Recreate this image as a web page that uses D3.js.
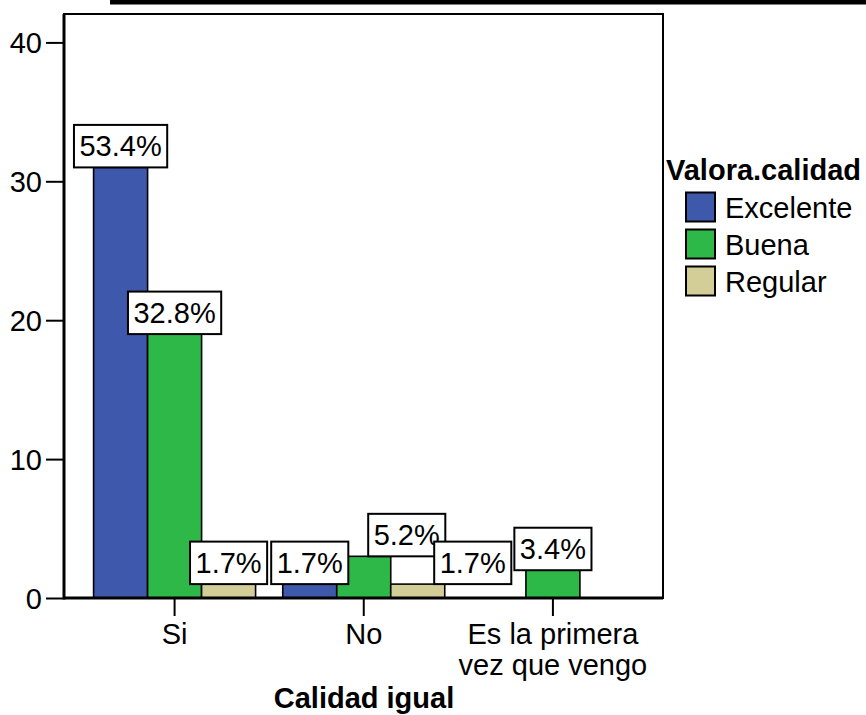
<!DOCTYPE html>
<html><head><meta charset="utf-8">
<script src="https://cdn.jsdelivr.net/npm/d3@7"></script>
<style>body{margin:0;background:#fff}svg{display:block}text{font-family:Arial,"Liberation Sans",Helvetica,sans-serif}</style>
</head><body>
<svg id="c" width="866" height="715"></svg>
<script>
const categories = ["Si", "No", "Es la primera\nvez que vengo"];
const series = ["Excelente", "Buena", "Regular"];
const excelente = [31, 1, 0];
const buena = [19, 3, 2];
const regular = [1, 1, 0];
const total = 58;
const yTicks = [0, 10, 20, 30, 40];
const colors = ["#3E58AC", "#2EB848", "#D3CE97"];
const legendTitle = "Valora.calidad";
const xTitle = "Calidad igual";

const values = [excelente, buena, regular];
const svg = d3.select("#c");
const W = 866;
const FS = 29;
const plot = {left: 64, right: 663, top: 14, bottom: 598};

const y = d3.scaleLinear().domain([0, 40]).range([598, 42.4]);
const x0 = d3.scaleBand().domain(categories).range([80, 647.5]);
const groupW = 162;
const x1 = d3.scaleBand().domain(series).range([0, groupW]);
const color = d3.scaleOrdinal().domain(series).range(colors);

// title underline (title itself lies above the visible area)
svg.append("rect").attr("x", 110).attr("y", 0).attr("width", W - 110).attr("height", 4.5).attr("fill", "#000");

// frame
svg.append("rect").attr("x", plot.left).attr("y", plot.top)
  .attr("width", plot.right - plot.left).attr("height", plot.bottom - plot.top)
  .attr("fill", "none").attr("stroke", "#000").attr("stroke-width", 2);

// bars
const data = [];
categories.forEach((c, ci) => series.forEach((s, si) => {
  const v = values[si][ci];
  if (v > 0) data.push({c, s, v});
}));

const gBars = svg.append("g");
gBars.selectAll("rect").data(data).join("rect")
  .attr("x", d => x0(d.c) + (x0.bandwidth() - groupW) / 2 + x1(d.s))
  .attr("y", d => y(d.v))
  .attr("width", x1.bandwidth())
  .attr("height", d => y(0) - y(d.v))
  .attr("fill", d => color(d.s))
  .attr("stroke", "#000").attr("stroke-width", 1.6);

// axes
const yAxis = svg.append("g").attr("transform", `translate(${plot.left},0)`)
  .call(d3.axisLeft(y).tickValues(yTicks).tickSize(18).tickPadding(4).tickFormat(d3.format("d")));
yAxis.select(".domain").remove();
yAxis.selectAll("line").attr("stroke", "#000").attr("stroke-width", 2);
yAxis.selectAll("text").attr("font-size", FS).attr("fill", "#000").attr("dy", "0.36em");
svg.append("line").attr("x1", plot.left).attr("x2", plot.left).attr("y1", plot.top).attr("y2", plot.bottom + 1.5)
  .attr("stroke", "#000").attr("stroke-width", 3);

const xAxis = svg.append("g").attr("transform", `translate(0,${plot.bottom})`)
  .call(d3.axisBottom(x0).tickSize(18).tickFormat(""));
xAxis.select(".domain").remove();
xAxis.selectAll("line").attr("stroke", "#000").attr("stroke-width", 2);
svg.append("line").attr("x1", plot.left).attr("x2", plot.right).attr("y1", plot.bottom).attr("y2", plot.bottom)
  .attr("stroke", "#000").attr("stroke-width", 3);

categories.forEach(c => {
  const cx = x0(c) + x0.bandwidth() / 2;
  c.split("\n").forEach((line, i) => {
    svg.append("text").attr("x", cx).attr("y", 644 + i * 31)
      .attr("text-anchor", "middle").attr("font-size", FS).attr("fill", "#000").text(line);
  });
});

svg.append("text").attr("x", 364).attr("y", 708).attr("text-anchor", "middle")
  .attr("font-size", FS).attr("font-weight", "bold").attr("fill", "#000").text(xTitle);

// value labels
const labelNudge = {"No|Buena": 43, "No|Regular": 55};
const gLab = svg.append("g");
data.forEach(d => {
  const cx = x0(d.c) + (x0.bandwidth() - groupW) / 2 + x1(d.s) + x1.bandwidth() / 2 + (labelNudge[d.c + "|" + d.s] || 0);
  const top = y(d.v);
  const g = gLab.append("g");
  const r = g.append("rect");
  const t = g.append("text").attr("x", cx).attr("y", top - 11).attr("text-anchor", "middle")
    .attr("font-size", FS).attr("fill", "#000").text(d3.format(".1f")(d.v / total * 100) + "%");
  const w = t.node().getComputedTextLength() + 11;
  r.attr("x", cx - w / 2).attr("y", top - 42.5).attr("width", w).attr("height", 42.5)
    .attr("fill", "#fff").attr("stroke", "#000").attr("stroke-width", 2);
});

// legend
const lg = svg.append("g");
lg.append("text").attr("x", 666).attr("y", 180).attr("font-size", FS).attr("font-weight", "bold")
  .attr("fill", "#000").text(legendTitle);
series.forEach((s, i) => {
  lg.append("rect").attr("x", 686).attr("y", 192.5 + i * 37).attr("width", 29).attr("height", 29)
    .attr("fill", color(s)).attr("stroke", "#000").attr("stroke-width", 2);
  lg.append("text").attr("x", 725).attr("y", 218 + i * 37).attr("font-size", FS).attr("fill", "#000").text(s);
});
</script>
</body></html>
